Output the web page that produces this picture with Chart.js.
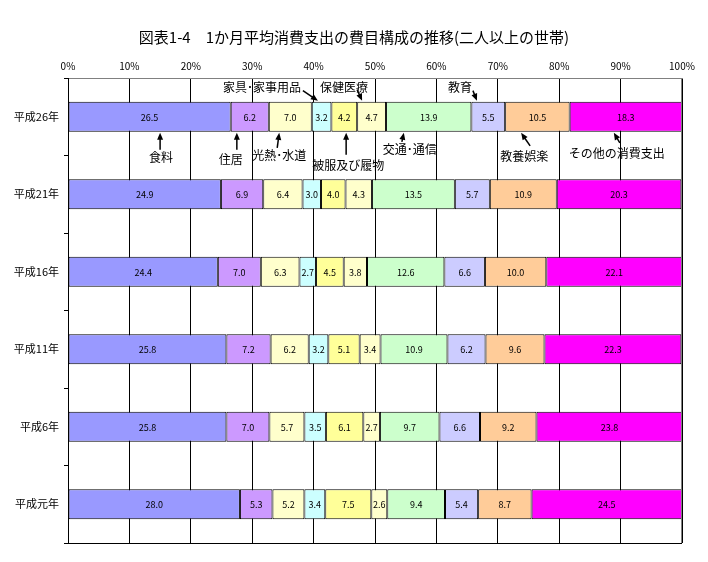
<!DOCTYPE html>
<html lang="ja">
<head>
<meta charset="utf-8">
<title>図表1-4 1か月平均消費支出の費目構成の推移</title>
<script src="https://cdn.jsdelivr.net/npm/chart.js@4.4.1/dist/chart.umd.min.js"></script>
<style>
  html, body { margin: 0; padding: 0; background: #fff; }
  #wrap { width: 708px; height: 562px; }
</style>
</head>
<body>
<div id="wrap"><canvas id="chart" width="708" height="562"></canvas></div>
<script>
// Values (percent of monthly consumption spending).
const TITLE = '図表1-4　1か月平均消費支出の費目構成の推移(二人以上の世帯)';
const years = ['平成26年', '平成21年', '平成16年', '平成11年', '平成6年', '平成元年'];
const items = ['食料', '住居', '光熱･水道', '家具･家事用品', '被服及び履物',
               '保健医療', '交通･通信', '教育', '教養娯楽', 'その他の消費支出'];

const h26 = [26.5, 6.2, 7.0, 3.2, 4.2, 4.7, 13.9, 5.5, 10.5, 18.3];
const h21 = [24.9, 6.9, 6.4, 3.0, 4.0, 4.3, 13.5, 5.7, 10.9, 20.3];
const h16 = [24.4, 7.0, 6.3, 2.7, 4.5, 3.8, 12.6, 6.6, 10.0, 22.1];
const h11 = [25.8, 7.2, 6.2, 3.2, 5.1, 3.4, 10.9, 6.2, 9.6, 22.3];
const h6  = [25.8, 7.0, 5.7, 3.5, 6.1, 2.7, 9.7, 6.6, 9.2, 23.8];
const h1  = [28.0, 5.3, 5.2, 3.4, 7.5, 2.6, 9.4, 5.4, 8.7, 24.5];
const rows = [h26, h21, h16, h11, h6, h1];

const itemColors = ['#9999FF', '#CC99FF', '#FFFFCC', '#CCFFFF', '#FFFF99',
                    '#FFFFCC', '#CCFFCC', '#CCCCFF', '#FFCC99', '#FF00FF'];
const xTicks = [0, 10, 20, 30, 40, 50, 60, 70, 80, 90, 100];

// Callouts on the top bar: tip position on the % scale, text and tail offsets from the tip.
const callouts = [
  { text: '家具･家事用品', at: 40.7, side: 'top',    dx: -56, dy: -13, lx: -15, ly: -10 },
  { text: '保健医療',       at: 47.9, side: 'top',    dx: -18, dy: -13, lx: -5,  ly: -11 },
  { text: '教育',           at: 66.6, side: 'top',    dx: -17, dy: -13, lx: -4,  ly: -10 },
  { text: '食料',           at: 15.0, side: 'bottom', dx: 1,   dy: 25,  lx: 0,   ly: 17 },
  { text: '住居',           at: 27.5, side: 'bottom', dx: -6,  dy: 27,  lx: 0,   ly: 17 },
  { text: '光熱･水道',      at: 34.4, side: 'bottom', dx: 0,   dy: 23,  lx: -2,  ly: 15 },
  { text: '被服及び履物',   at: 45.3, side: 'bottom', dx: 2,   dy: 33,  lx: 0,   ly: 22 },
  { text: '交通･通信',      at: 54.7, side: 'bottom', dx: 6,   dy: 17,  lx: -2,  ly: 9 },
  { text: '教養娯楽',       at: 73.8, side: 'bottom', dx: 3,   dy: 24,  lx: 9,   ly: 13 },
  { text: 'その他の消費支出', at: 88.9, side: 'bottom', dx: 3,  dy: 21,  lx: 6,   ly: 10 }
];

const FONT = "'Noto Sans CJK JP', 'Noto Sans', sans-serif";

const datasets = items.map((name, i) => ({
  label: name,
  data: rows.map(r => r[i]),
  backgroundColor: itemColors[i],
  borderColor: '#000',
  borderWidth: 1,
  borderSkipped: false,
  barPercentage: 0.39,
  categoryPercentage: 1
}));

const decorations = {
  id: 'decorations',
  afterDatasetsDraw(chart) {
    const ctx = chart.ctx;
    const area = chart.chartArea;
    ctx.save();
    // value labels inside every segment
    ctx.fillStyle = '#000';
    ctx.font = '9px ' + FONT;
    ctx.textAlign = 'center';
    ctx.textBaseline = 'middle';
    chart.data.datasets.forEach((ds, di) => {
      chart.getDatasetMeta(di).data.forEach((el, idx) => {
        const p = el.getCenterPoint();
        ctx.fillText(ds.data[idx].toFixed(1), p.x, p.y + 0.5);
      });
    });
    // plot frame: bottom black, right grey
    ctx.lineWidth = 1;
    ctx.strokeStyle = '#000';
    ctx.beginPath();
    ctx.moveTo(area.left, Math.round(area.bottom) + 0.5);
    ctx.lineTo(area.right, Math.round(area.bottom) + 0.5);
    ctx.stroke();
    ctx.strokeStyle = '#808080';
    ctx.beginPath();
    ctx.moveTo(Math.round(area.right) - 0.5, area.top);
    ctx.lineTo(Math.round(area.right) - 0.5, area.bottom);
    ctx.stroke();
    // callouts on the first bar
    const bar = chart.getDatasetMeta(0).data[0];
    const top = bar.y - bar.height / 2;
    const bottom = bar.y + bar.height / 2;
    const xs = chart.scales.x;
    ctx.font = '12px ' + FONT;
    callouts.forEach(c => {
      const tx = xs.getPixelForValue(c.at);
      const ty = c.side === 'top' ? top - 1 : bottom + 1;
      const sx = tx + c.lx, sy = ty + c.ly;
      const ang = Math.atan2(ty - sy, tx - sx);
      const hl = 7, hw = 3;
      ctx.strokeStyle = '#000';
      ctx.lineWidth = 1.5;
      ctx.beginPath();
      ctx.moveTo(sx, sy);
      ctx.lineTo(tx - Math.cos(ang) * hl * 0.8, ty - Math.sin(ang) * hl * 0.8);
      ctx.stroke();
      ctx.beginPath();
      ctx.moveTo(tx, ty);
      ctx.lineTo(tx - Math.cos(ang) * hl - Math.sin(ang) * hw, ty - Math.sin(ang) * hl + Math.cos(ang) * hw);
      ctx.lineTo(tx - Math.cos(ang) * hl + Math.sin(ang) * hw, ty - Math.sin(ang) * hl - Math.cos(ang) * hw);
      ctx.closePath();
      ctx.fillStyle = '#000';
      ctx.fill();
      ctx.fillText(c.text, tx + c.dx, ty + c.dy);
    });
    // title
    ctx.font = '15px ' + FONT;
    ctx.fillText(TITLE, 354, 37);
    ctx.restore();
  }
};

new Chart(document.getElementById('chart'), {
  type: 'bar',
  data: { labels: years, datasets },
  options: {
    indexAxis: 'y',
    responsive: false,
    animation: false,
    devicePixelRatio: 1,
    layout: { padding: { top: 0, left: 0, right: 26, bottom: 19 } },
    plugins: { legend: { display: false }, tooltip: { enabled: false }, title: { display: false } },
    scales: {
      x: {
        position: 'top',
        stacked: true,
        min: 0,
        max: 100,
        afterFit(scale) { scale.height = 78; },
        afterBuildTicks(scale) { scale.ticks = xTicks.map(v => ({ value: v })); },
        ticks: {
          callback: v => v + '%',
          color: '#000',
          font: { size: 10, family: FONT },
          padding: 6,
          maxRotation: 0,
          autoSkip: false
        },
        grid: {
          color: '#000',
          lineWidth: 1,
          drawTicks: false
        },
        border: { color: '#808080', width: 1 }
      },
      y: {
        stacked: true,
        afterFit(scale) { scale.width = 68; },
        ticks: {
          color: '#000',
          font: { size: 11, family: FONT },
          padding: 5
        },
        grid: {
          offset: true,
          drawOnChartArea: false,
          drawTicks: true,
          tickLength: 4,
          color: '#000'
        },
        border: { color: '#000', width: 1 }
      }
    }
  },
  plugins: [decorations]
});
</script>
</body>
</html>
